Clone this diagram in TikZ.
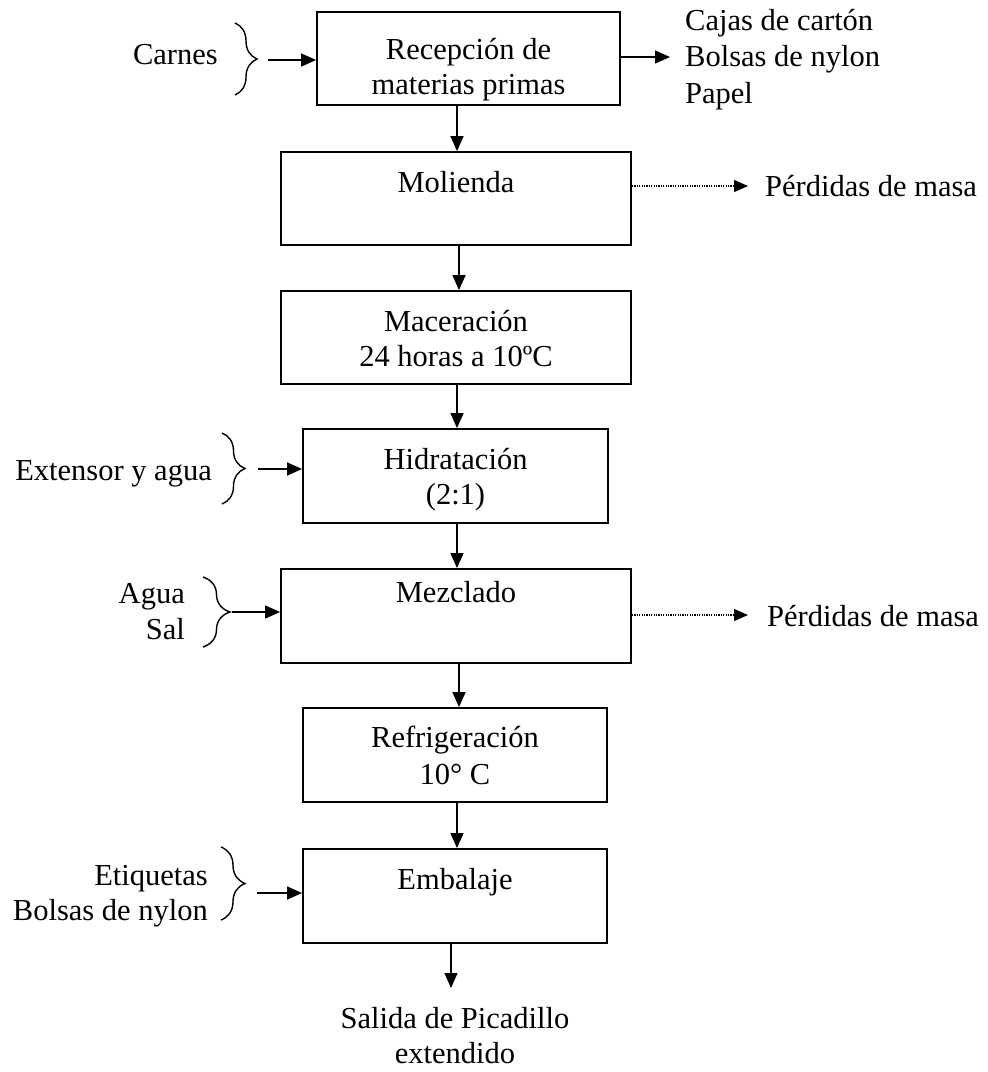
\documentclass[tikz,border=0pt]{standalone}
\usepackage{fontspec}
\setmainfont{Liberation Serif}
\usetikzlibrary{arrows.meta,decorations.pathreplacing}
\newcommand{\ds}{\rule[-6.5pt]{0pt}{35pt}}
\tikzset{
  txt/.style={inner sep=0pt, font=\fontsize{30.5}{35}\selectfont},
  stepbox/.style={draw, line width=1.8pt, inner sep=0pt, align=center, font=\fontsize{30.5}{35}\selectfont},
  arr/.style={line width=1.4pt, -{Triangle[length=15pt,width=13pt]}},
  darr/.style={line width=1.2pt, dash pattern=on 1.2pt off 1.2pt, -{Triangle[length=14pt,width=12pt]}},
  brc/.style={line width=1.4pt, decorate, decoration={brace, amplitude=#1}},
}
\begin{document}
\begin{tikzpicture}[x=1pt,y=-1pt]
\useasboundingbox (0,0) rectangle (988,1072);

% process boxes
\node[stepbox, minimum width=303pt, minimum height=93pt] (rec) at (468.5,58.5) {Recepción de\rule{0pt}{42.5pt}\\materias primas\ds};
\node[stepbox, minimum width=350pt, minimum height=93pt] (mol) at (456,198.5) {Molienda\ds\\\ds};
\node[stepbox, minimum width=350pt, minimum height=93pt] (mac) at (456,337.5) {Maceración\ds\\24 horas a 10ºC\ds};
\node[stepbox, minimum width=305pt, minimum height=94pt] (hid) at (455.5,476) {Hidratación\ds\\(2:1)\ds};
\node[stepbox, minimum width=350pt, minimum height=94pt] (mez) at (456,616) {Mezclado\ds\\\rule[-20.5pt]{0pt}{35pt}};
\node[stepbox, minimum width=304pt, minimum height=94pt] (ref) at (455,755) {Refrigeración\ds\\10° C\ds};
\node[stepbox, minimum width=304pt, minimum height=94pt] (emb) at (455,896) {Embalaje\ds\\\ds};

% output text
\node[txt, align=center] (sal) at (455,1035) {Salida de Picadillo\ds\\extendido\ds};

% left inputs
\node[txt, anchor=east] (carnes) at (218,53) {Carnes\ds};
\node[txt, anchor=east] (ext) at (212,470) {Extensor y agua\ds};
\node[txt, anchor=east, align=right] (agua) at (185,610.5) {Agua\ds\\Sal\ds};
\node[txt, anchor=east, align=right] (etiq) at (208,892.5) {Etiquetas\ds\\Bolsas de nylon\ds};

% right outputs
\node[txt, anchor=west, align=left, font=\fontsize{30.5}{31}\selectfont] (cajas) at (685,56) {Cajas de cartón\ds\\Bolsas de nylon\ds\\Papel\ds};
\node[txt, anchor=west] (perd1) at (765,185) {Pérdidas de masa\ds};
\node[txt, anchor=west] (perd2) at (767,615) {Pérdidas de masa\ds};

% braces
\draw[brc=22pt] (235,23) -- (235,95);
\draw[brc=23pt] (222,433) -- (222,504);
\draw[brc=27pt] (203,577) -- (203,647);
\draw[brc=24pt] (221,847) -- (221,920);

% input arrows
\coordinate (cin) at (268,60);
\coordinate (ein) at (258,469);
\coordinate (ain) at (232,612);
\coordinate (tin) at (257,893);
\draw[arr] (cin) -- (cin -| rec.west);
\draw[arr] (ein) -- (ein -| hid.west);
\draw[arr] (ain) -- (ain -| mez.west);
\draw[arr] (tin) -- (tin -| emb.west);

% output arrows
\coordinate (cout) at (670,57);
\coordinate (p1) at (748,186);
\coordinate (p2) at (748,615);
\draw[arr] (cout -| rec.east) -- (cout);
\draw[darr] (p1 -| mol.east) -- (p1);
\draw[darr] (p2 -| mez.east) -- (p2);

% vertical flow
\coordinate (v1) at (457,0);
\coordinate (v2) at (459,0);
\coordinate (v3) at (457,0);
\coordinate (v4) at (457,0);
\coordinate (v5) at (459,0);
\coordinate (v6) at (457,0);
\coordinate (salin) at (451,988);
\draw[arr] (v1 |- rec.south) -- (v1 |- mol.north);
\draw[arr] (v2 |- mol.south) -- (v2 |- mac.north);
\draw[arr] (v3 |- mac.south) -- (v3 |- hid.north);
\draw[arr] (v4 |- hid.south) -- (v4 |- mez.north);
\draw[arr] (v5 |- mez.south) -- (v5 |- ref.north);
\draw[arr] (v6 |- ref.south) -- (v6 |- emb.north);
\draw[arr] (salin |- emb.south) -- (salin);
\end{tikzpicture}
\end{document}
